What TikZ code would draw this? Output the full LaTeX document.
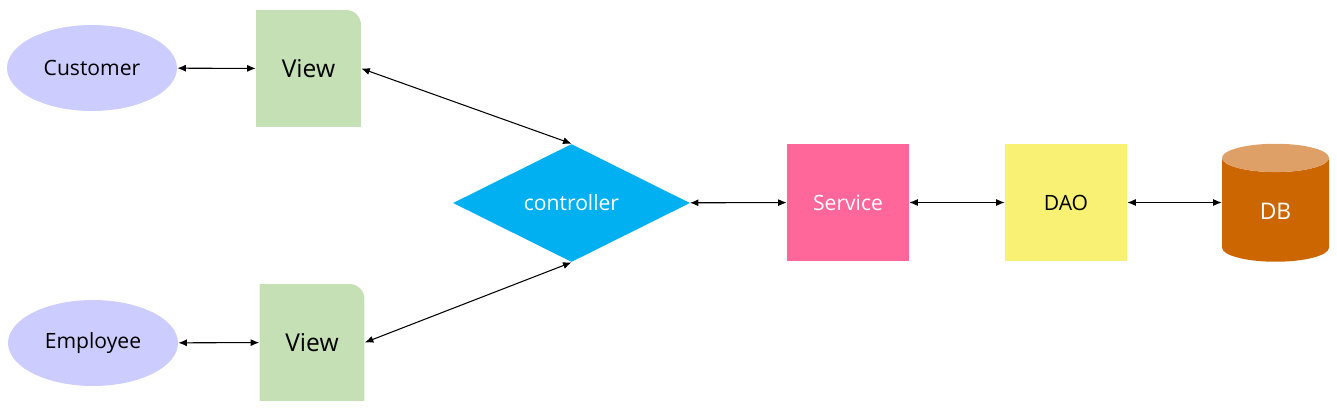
\documentclass[tikz,border=0pt]{standalone}
\usepackage{fontspec}
\setmainfont{Open Sans}
\usetikzlibrary{shapes.geometric, arrows.meta}

\definecolor{actorblue}{HTML}{CCCCFF}
\definecolor{viewgreen}{HTML}{C5E0B4}
\definecolor{ctrlblue}{HTML}{00B0F0}
\definecolor{servpink}{HTML}{FF6699}
\definecolor{daoyellow}{HTML}{F8F173}
\definecolor{dbbody}{HTML}{CC6600}
\definecolor{dbtop}{HTML}{DEA066}

\begin{document}
\begin{tikzpicture}[
    x=0.02cm, y=-0.02cm,
    actor/.style={ellipse, fill=actorblue, inner sep=0, minimum width=3.4cm, minimum height=1.72cm, font=\fontsize{12}{14}\selectfont},
    viewbox/.style={rectangle, inner sep=0, minimum width=2.1cm, minimum height=2.34cm, font=\fontsize{14}{16}\selectfont,
        path picture={
            \fill [viewgreen] (path picture bounding box.south west) -- (path picture bounding box.north west)
                [rounded corners=0.3cm] -- (path picture bounding box.north east)
                [sharp corners] -- (path picture bounding box.south east) -- cycle;
        }},
    ctrl/.style={diamond, fill=ctrlblue, text=white, inner sep=0, aspect=2, minimum width=4.74cm, minimum height=2.36cm, font=\fontsize{12}{14}\selectfont},
    layer/.style={rectangle, inner sep=0, minimum width=2.44cm, minimum height=2.34cm, font=\fontsize{12}{14}\selectfont},
    store/.style={cylinder, shape border rotate=90, aspect=0.9, cylinder uses custom fill, cylinder body fill=dbbody, cylinder end fill=dbtop,
        text=white, inner sep=0, text height=0.36cm, text depth=0pt, minimum width=2.14cm, minimum height=2.36cm, font=\fontsize{13}{15}\selectfont},
    link/.style={{Latex[length=1.7mm, width=1.4mm]}-{Latex[length=1.7mm, width=1.4mm]}, semithick}
    ]
    \useasboundingbox (0,0) rectangle (1337,412);

    \node [actor] (customer) at (92,68) {Customer};
    \node [viewbox] (view1) at (308.5,68.5) {View};
    \node [actor] (employee) at (93,343) {Employee};
    \node [viewbox] (view2) at (312,342.5) {View};

    \node [ctrl] (controller) at (571.5,203) {controller};
    \node [layer, fill=servpink, text=white] (service) at (848,202.5) {Service};
    \node [layer, fill=daoyellow] (dao) at (1066,202.5) {DAO};
    \node [store] (db) at (1275.5,210) {DB};

    \draw [link] (customer) -- (view1);
    \draw [link] (employee) -- (view2);
    \draw [link] (view1.east) -- (controller.north);
    \draw [link] (view2.east) -- (controller.south);
    \draw [link] (controller) -- (service);
    \draw [link] (service) -- (dao);
    \draw [link] (dao.east) -- (dao.east -| db.west);
\end{tikzpicture}
\end{document}
